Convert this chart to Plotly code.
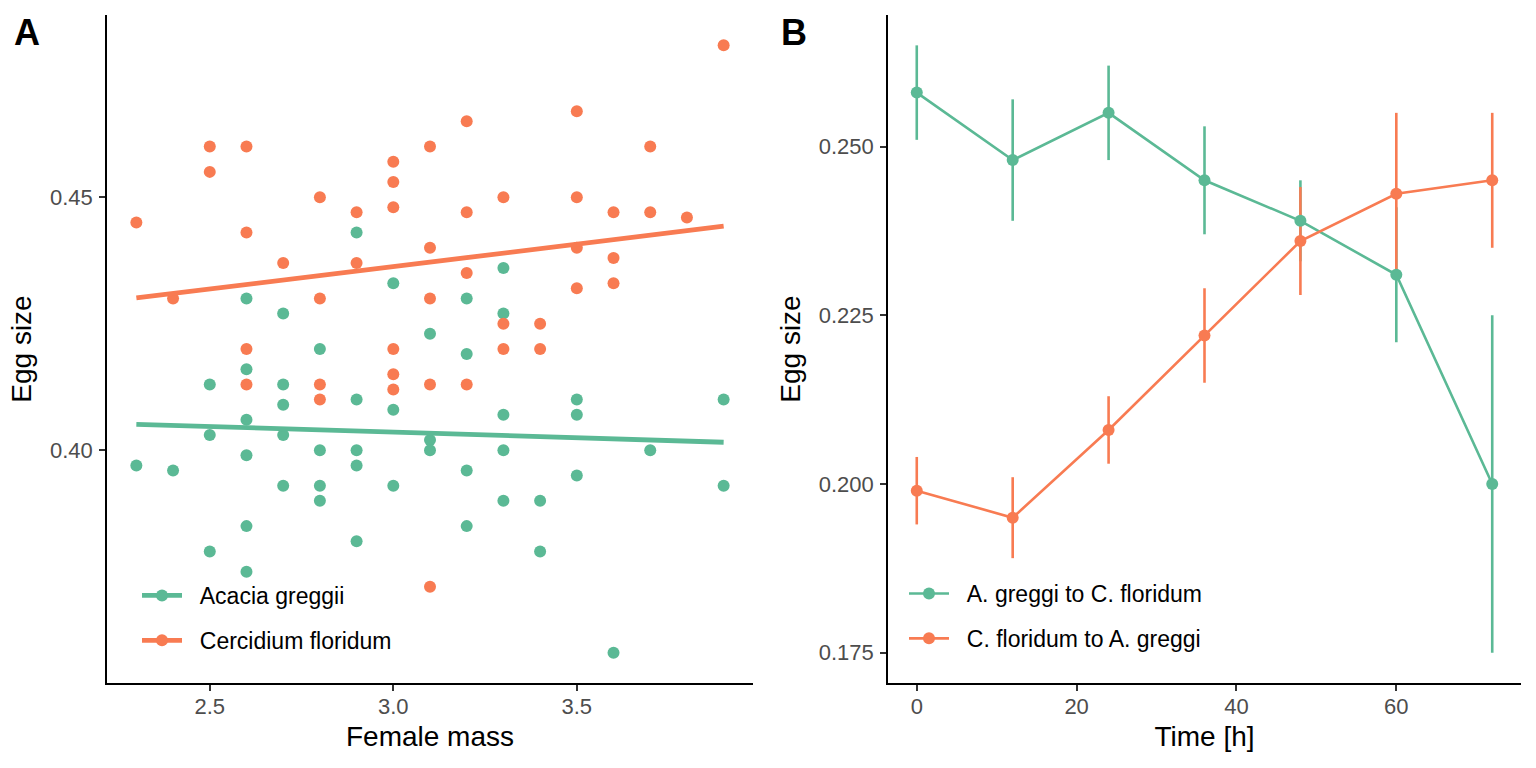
import numpy as np
import plotly.graph_objects as go

# ---------------- Panel A data ----------------
ag_mass = [2.3, 2.4,
           2.5, 2.5, 2.5,
           2.6, 2.6, 2.6, 2.6, 2.6, 2.6,
           2.7, 2.7, 2.7, 2.7, 2.7,
           2.8, 2.8, 2.8, 2.8,
           2.9, 2.9, 2.9, 2.9, 2.9,
           3.0, 3.0, 3.0,
           3.1, 3.1, 3.1,
           3.2, 3.2, 3.2, 3.2,
           3.3, 3.3, 3.3, 3.3, 3.3,
           3.4, 3.4,
           3.5, 3.5, 3.5,
           3.6,
           3.7,
           3.9, 3.9]
ag_egg = [0.397, 0.396,
          0.413, 0.403, 0.380,
          0.430, 0.416, 0.406, 0.399, 0.385, 0.376,
          0.427, 0.413, 0.409, 0.403, 0.393,
          0.420, 0.400, 0.393, 0.390,
          0.443, 0.410, 0.400, 0.397, 0.382,
          0.433, 0.408, 0.393,
          0.423, 0.402, 0.400,
          0.430, 0.419, 0.396, 0.385,
          0.436, 0.427, 0.407, 0.400, 0.390,
          0.390, 0.380,
          0.410, 0.407, 0.395,
          0.360,
          0.400,
          0.410, 0.393]

cf_mass = [2.3, 2.4,
           2.5, 2.5,
           2.6, 2.6, 2.6, 2.6,
           2.7,
           2.8, 2.8, 2.8, 2.8,
           2.9, 2.9,
           3.0, 3.0, 3.0, 3.0, 3.0, 3.0,
           3.1, 3.1, 3.1, 3.1, 3.1,
           3.2, 3.2, 3.2, 3.2,
           3.3, 3.3, 3.3,
           3.4, 3.4,
           3.5, 3.5, 3.5, 3.5,
           3.6, 3.6, 3.6,
           3.7, 3.7,
           3.8,
           3.9]
cf_egg = [0.445, 0.430,
          0.460, 0.455,
          0.460, 0.443, 0.420, 0.413,
          0.437,
          0.450, 0.430, 0.413, 0.410,
          0.447, 0.437,
          0.457, 0.453, 0.448, 0.420, 0.415, 0.412,
          0.460, 0.440, 0.430, 0.413, 0.373,
          0.465, 0.447, 0.435, 0.413,
          0.450, 0.425, 0.420,
          0.425, 0.420,
          0.467, 0.450, 0.440, 0.432,
          0.447, 0.438, 0.433,
          0.460, 0.447,
          0.446,
          0.480]

species_names = ["Acacia greggii", "Cercidium floridum"]

# ---------------- Panel B data ----------------
time_h = [0, 12, 24, 36, 48, 60, 72]
ag_to_cf = [0.258, 0.248, 0.255, 0.245, 0.239, 0.231, 0.200]
ag_to_cf_err = [0.007, 0.009, 0.007, 0.008, 0.006, 0.010, 0.025]
cf_to_ag = [0.199, 0.195, 0.208, 0.222, 0.236, 0.243, 0.245]
cf_to_ag_err = [0.005, 0.006, 0.005, 0.007, 0.008, 0.012, 0.010]
transfer_names = ["A. greggi to C. floridum", "C. floridum to A. greggi"]

# ticks
a_xticks = [2.5, 3.0, 3.5]
a_xticklabels = ["2.5", "3.0", "3.5"]
a_yticks = [0.40, 0.45]
a_yticklabels = ["0.40", "0.45"]
b_xticks = [0, 20, 40, 60]
b_xticklabels = ["0", "20", "40", "60"]
b_yticks = [0.175, 0.200, 0.225, 0.250]
b_yticklabels = ["0.175", "0.200", "0.225", "0.250"]

GREEN = "#5BB995"
ORANGE = "#F87B52"
FONT = "Liberation Sans"
PAD = "\u00a0\u00a0"  # visual gap between legend key and label

fig = go.Figure()

# ---- Panel A points ----
for xs, ys, col in [(ag_mass, ag_egg, GREEN), (cf_mass, cf_egg, ORANGE)]:
    fig.add_trace(go.Scatter(x=xs, y=ys, mode="markers",
                             marker=dict(size=12, color=col, line=dict(width=0)),
                             showlegend=False, xaxis="x", yaxis="y", hoverinfo="skip"))

# ---- Panel A linear fits ----
for xs, ys, col in [(ag_mass, ag_egg, GREEN), (cf_mass, cf_egg, ORANGE)]:
    slope, icpt = np.polyfit(np.array(xs), np.array(ys), 1)
    fx = np.array([min(xs), max(xs)])
    fig.add_trace(go.Scatter(x=fx, y=icpt + slope * fx, mode="lines",
                             line=dict(color=col, width=4.8),
                             showlegend=False, xaxis="x", yaxis="y", hoverinfo="skip"))

# ---- Panel A legend entries ----
for i, (name, col) in enumerate(zip(species_names, [GREEN, ORANGE])):
    fig.add_trace(go.Scatter(x=[None], y=[None], mode="lines+markers", name=PAD + name,
                             line=dict(color=col, width=4.8),
                             marker=dict(size=12, color=col),
                             legend="legend", legendgroup="a%d" % i,
                             xaxis="x", yaxis="y"))

# ---- Panel B error bars ----
for ys, es, col in [(ag_to_cf, ag_to_cf_err, GREEN), (cf_to_ag, cf_to_ag_err, ORANGE)]:
    fig.add_trace(go.Scatter(x=time_h, y=ys, mode="markers",
                             marker=dict(size=1, color="rgba(0,0,0,0)"),
                             error_y=dict(type="data", array=es, visible=True,
                                          color=col, thickness=2.6, width=0),
                             showlegend=False, xaxis="x2", yaxis="y2", hoverinfo="skip"))
# ---- Panel B lines ----
for ys, col in [(ag_to_cf, GREEN), (cf_to_ag, ORANGE)]:
    fig.add_trace(go.Scatter(x=time_h, y=ys, mode="lines",
                             line=dict(color=col, width=2.6),
                             showlegend=False, xaxis="x2", yaxis="y2", hoverinfo="skip"))
# ---- Panel B points ----
for ys, col in [(ag_to_cf, GREEN), (cf_to_ag, ORANGE)]:
    fig.add_trace(go.Scatter(x=time_h, y=ys, mode="markers",
                             marker=dict(size=12, color=col),
                             showlegend=False, xaxis="x2", yaxis="y2", hoverinfo="skip"))
# ---- Panel B legend entries ----
for i, (name, col) in enumerate(zip(transfer_names, [GREEN, ORANGE])):
    fig.add_trace(go.Scatter(x=[None], y=[None], mode="lines+markers", name=PAD + name,
                             line=dict(color=col, width=2.6),
                             marker=dict(size=12, color=col),
                             legend="legend2", legendgroup="b%d" % i,
                             xaxis="x2", yaxis="y2"))

W, H = 1536, 768
ydom = [(H - 683) / H, (H - 15) / H]

axis_common = dict(showgrid=False, zeroline=False, showline=True, linecolor="black",
                   linewidth=1.7, ticks="outside", ticklen=6, tickwidth=1.7,
                   tickcolor="#333333", tickfont=dict(family=FONT, size=22, color="#4D4D4D"))
title_font = dict(size=28, family=FONT, color="black")

fig.update_layout(
    width=W, height=H,
    margin=dict(l=0, r=0, t=0, b=0),
    paper_bgcolor="white", plot_bgcolor="white",
    font=dict(family=FONT, color="black"),
    xaxis=dict(domain=[107 / W, 753 / W], range=[2.22, 3.98],
               tickvals=a_xticks, ticktext=a_xticklabels, ticklabelstandoff=-3,
               title=dict(text="Female mass", font=title_font, standoff=8),
               anchor="y", **axis_common),
    yaxis=dict(domain=ydom, range=[0.354, 0.486],
               tickvals=a_yticks, ticktext=a_yticklabels, ticklabelstandoff=2,
               title=dict(text="Egg size", font=title_font, standoff=10),
               anchor="x", **axis_common),
    xaxis2=dict(domain=[888 / W, 1521 / W], range=[-3.6, 75.6],
                tickvals=b_xticks, ticktext=b_xticklabels, ticklabelstandoff=-3,
                title=dict(text="Time [h]", font=title_font, standoff=8),
                anchor="y2", **axis_common),
    yaxis2=dict(domain=ydom, range=[0.1705, 0.2695],
                tickvals=b_yticks, ticktext=b_yticklabels, ticklabelstandoff=2,
                title=dict(text="Egg size", font=title_font, standoff=10),
                anchor="x2", **axis_common),
    legend=dict(x=137 / W, y=(H - 574) / H, xanchor="left", yanchor="top",
                bgcolor="rgba(0,0,0,0)", borderwidth=0,
                font=dict(family=FONT, size=23, color="black"),
                tracegroupgap=12, itemwidth=40, traceorder="grouped"),
    legend2=dict(x=904 / W, y=(H - 572) / H, xanchor="left", yanchor="top",
                 bgcolor="rgba(0,0,0,0)", borderwidth=0,
                 font=dict(family=FONT, size=23, color="black"),
                 tracegroupgap=12, itemwidth=40, traceorder="grouped"),
    annotations=[
        dict(text="<b>A</b>", x=12 / W, y=1 - 10 / H, xref="paper", yref="paper",
             xanchor="left", yanchor="top", showarrow=False,
             font=dict(family=FONT, size=36, color="black")),
        dict(text="<b>B</b>", x=779 / W, y=1 - 10 / H, xref="paper", yref="paper",
             xanchor="left", yanchor="top", showarrow=False,
             font=dict(family=FONT, size=36, color="black")),
    ],
)

fig.write_html("out.html", config={"displayModeBar": False},
               post_script="document.body.style.margin='0';document.body.style.overflow='hidden';")
